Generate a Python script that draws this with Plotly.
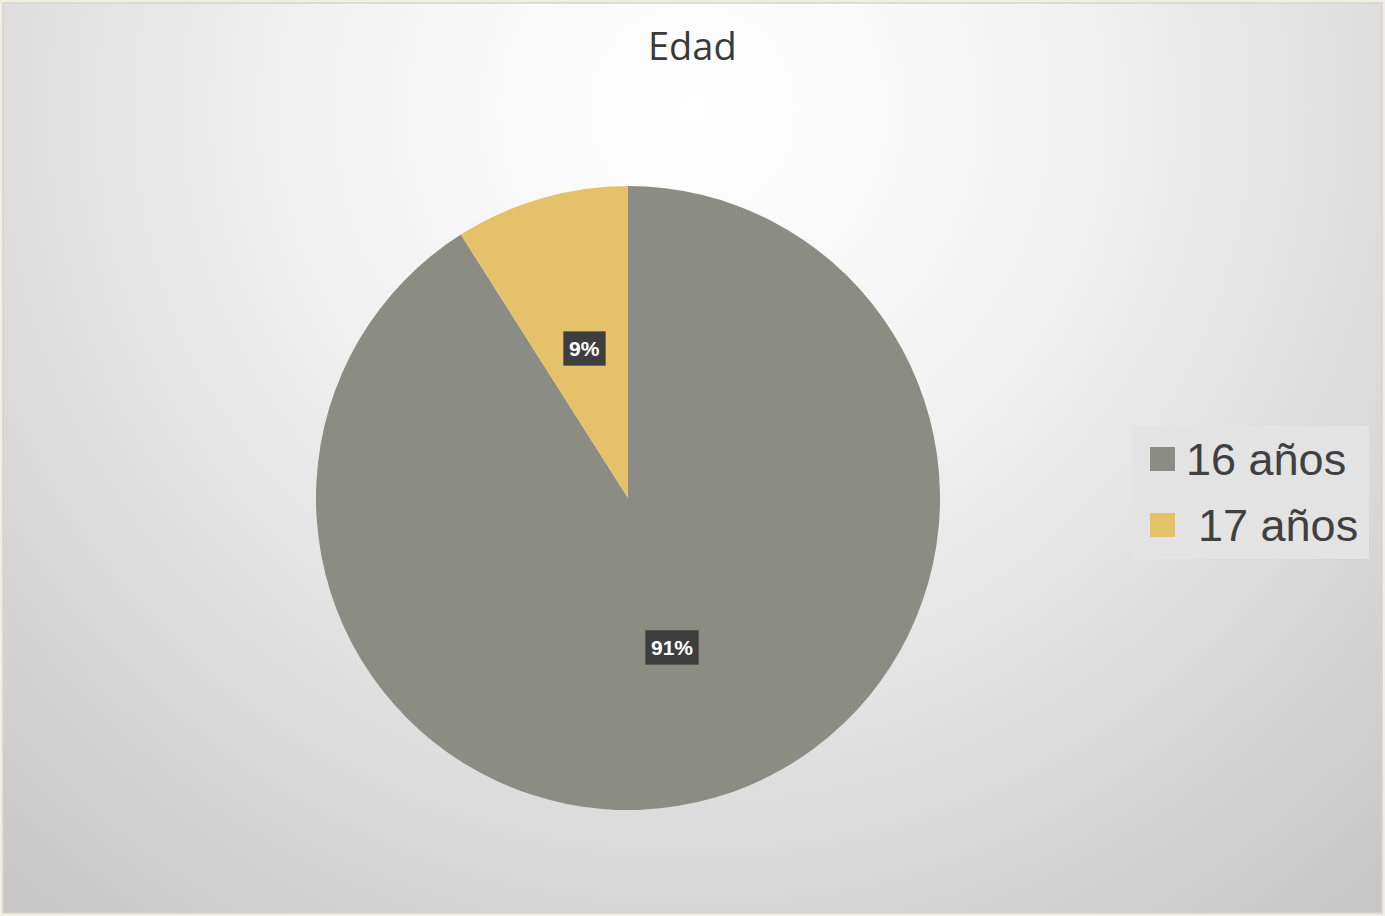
import base64, math
import plotly.graph_objects as go

# ---- data ----
title_text = "Edad"
categories = ["16 años", "17 años"]
values = [91, 9]
colors = ["#8B8C84", "#E5C16A"]

W, H = 1385, 916

# radial gradient background (Excel-style)
svg = f'''<svg xmlns="http://www.w3.org/2000/svg" width="{W}" height="{H}">
<defs><radialGradient id="g" gradientUnits="userSpaceOnUse" cx="{W*0.5}" cy="{H*0.12}" r="{W*0.78}">
<stop offset="0" stop-color="#FFFFFF"/><stop offset="0.35" stop-color="#F2F2F2"/><stop offset="1" stop-color="#C4C4C4"/>
</radialGradient></defs>
<rect x="0" y="0" width="{W}" height="{H}" fill="#F1EFE4"/>
<rect x="3" y="3" width="{W-6}" height="{H-6}" fill="url(#g)" stroke="#D4D4D0" stroke-width="1.5"/>
</svg>'''
bg_uri = "data:image/svg+xml;base64," + base64.b64encode(svg.encode()).decode()

# pie geometry (layout)
cx, cy, R = 628, 498, 312
dom_x = [(cx - R) / W, (cx + R) / W]
dom_y = [(H - cy - R) / H, (H - cy + R) / H]

fig = go.Figure()
fig.add_trace(go.Pie(
    labels=categories, values=values, sort=False, direction="clockwise", rotation=0,
    marker=dict(colors=colors, line=dict(width=0)),
    textinfo="none", hoverinfo="label+percent", showlegend=False,
    domain=dict(x=dom_x, y=dom_y),
))

# data labels in dark boxes at half radius, computed from values
total = sum(values)
cum = 0
annotations = []
for lab, v in zip(categories, values):
    mid = (cum + v / 2) / total * 2 * math.pi
    cum += v
    px = cx + 0.5 * R * math.sin(mid)
    py = cy - 0.5 * R * math.cos(mid)
    annotations.append(dict(
        x=px / W, y=1 - py / H, xref="paper", yref="paper", showarrow=False,
        text=f"<b>{round(v / total * 100)}%</b>",
        font=dict(family="Liberation Sans, Arial", size=21, color="white"),
        bgcolor="#3E3E3E", bordercolor="rgba(0,0,0,0.15)", borderwidth=1, borderpad=5,
        xanchor="center", yanchor="middle",
    ))

# title
annotations.append(dict(
    x=0.5, y=1 - 45 / H, xref="paper", yref="paper", showarrow=False,
    text=title_text, font=dict(family="Open Sans, Liberation Sans", size=38, color="#3A3A3A"),
    xanchor="center", yanchor="middle",
))

# custom legend
shapes = [dict(type="rect", xref="paper", yref="paper",
               x0=1132 / W, x1=1369 / W, y0=1 - 559 / H, y1=1 - 426 / H,
               fillcolor="#E3E3E3", line=dict(width=0), layer="below")]
leg_rows = [459, 525]
for i, (lab, col) in enumerate(zip(categories, colors)):
    yc = leg_rows[i]
    shapes.append(dict(type="rect", xref="paper", yref="paper",
                       x0=1150 / W, x1=1175 / W, y0=1 - (yc + 12) / H, y1=1 - (yc - 12) / H,
                       fillcolor=col, line=dict(width=0)))
    annotations.append(dict(
        x=(1184 if i == 0 else 1196) / W, y=1 - yc / H, xref="paper", yref="paper", showarrow=False,
        text=lab, font=dict(family="Liberation Sans, Arial", size=45, color="#404040"),
        xanchor="left", yanchor="middle",
    ))

fig.update_layout(
    width=W, height=H, margin=dict(l=0, r=0, t=0, b=0),
    paper_bgcolor="rgba(0,0,0,0)", plot_bgcolor="rgba(0,0,0,0)",
    images=[dict(source=bg_uri, xref="paper", yref="paper", x=0, y=1, sizex=1, sizey=1,
                 xanchor="left", yanchor="top", sizing="stretch", layer="below")],
    shapes=shapes, annotations=annotations, showlegend=False,
)

fig.write_html("out.html", config={"displayModeBar": False},
               post_script="document.body.style.margin='0';document.body.style.overflow='hidden';")
